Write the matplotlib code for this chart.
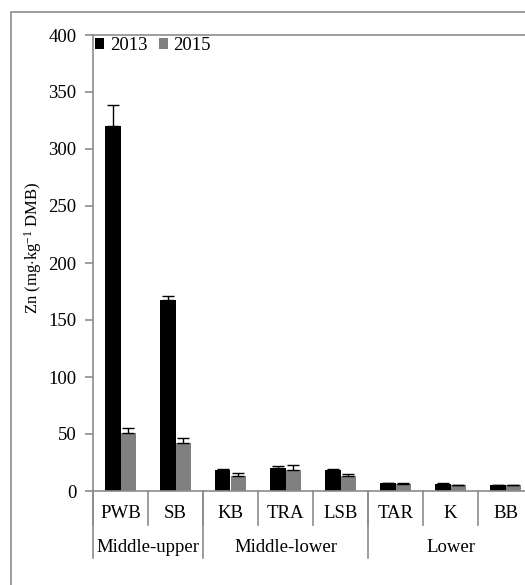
import matplotlib
matplotlib.use("Agg")
import matplotlib.pyplot as plt
from matplotlib.patches import Rectangle
import numpy as np

plt.rcParams['font.family'] = ['Liberation Serif', 'DejaVu Serif']
plt.rcParams['mathtext.fontset'] = 'custom'
plt.rcParams['mathtext.rm'] = 'Liberation Serif'
plt.rcParams['mathtext.it'] = 'Liberation Serif:italic'

sites = ["PWB", "SB", "KB", "TRA", "LSB", "TAR", "K", "BB"]
groups = ["Middle-upper", "Middle-lower", "Lower"]
group_sizes = [2, 3, 3]
series_names = ["2013", "2015"]
zn_2013 = [320, 167.5, 18.4, 20.5, 18.4, 6.8, 6.3, 5.0]
err_2013 = [19, 3.5, 0.6, 1.7, 0.6, 0.5, 0.4, 0.4]
zn_2015 = [51, 42.5, 13.5, 18.5, 13.0, 6.3, 5.0, 5.1]
err_2015 = [4, 4.4, 2.0, 4.0, 2.0, 0.5, 0.4, 0.4]
yticks = [0, 50, 100, 150, 200, 250, 300, 350, 400]

W, H = 525, 585
FS = 13.5
fig = plt.figure(figsize=(W / 100, H / 100), dpi=100)
gray = '#8c8c8c'

# outer frame (cropped at right and bottom)
fig.patches.append(Rectangle((11 / W, -0.02), 1.1, 1 - 12 / H + 0.02,
                             transform=fig.transFigure, fill=False,
                             edgecolor=gray, lw=1.2))

ax = fig.add_axes([93 / W, 1 - 491 / H, (533 - 93) / W, (491 - 35) / H])
x = np.arange(len(sites))
bw = 0.28
ekw = dict(ecolor='black', elinewidth=1.0, capsize=4.3, capthick=1.0)
ax.bar(x - bw / 2, zn_2013, bw, color='black', label=series_names[0],
       yerr=[np.zeros(len(sites)), err_2013], error_kw=ekw)
ax.bar(x + bw / 2, zn_2015, bw, color='#808080', label=series_names[1],
       yerr=[np.zeros(len(sites)), err_2015], error_kw=ekw)

ax.set_xlim(-0.5, len(sites) - 0.5)
ax.set_ylim(0, 400)
ax.set_yticks(yticks)
ax.set_yticklabels([str(v) for v in yticks], fontsize=FS)
ax.tick_params(axis='y', direction='out', length=6, width=1.2, color=gray, pad=6)
ax.set_xticks([])
for s in ['top', 'left', 'bottom']:
    ax.spines[s].set_color(gray)
    ax.spines[s].set_linewidth(1.2)
ax.spines['right'].set_visible(False)

ax.set_ylabel("Zn (mg$\\cdot$kg$^{-1}$ DMB)", fontsize=12)
ax.yaxis.set_label_coords((44 - 93) / 440, (491 - 248) / 456)

# category separators and labels
tr = ax.get_xaxis_transform()
for b in np.arange(-0.5, len(sites), 1.0):
    ax.plot([b, b], [0, -34 / 456], transform=tr, color=gray, lw=1.2, clip_on=False)
for i, s in enumerate(sites):
    ax.text(i, -22 / 456, s, transform=tr, ha='center', va='center', fontsize=FS)
start = -0.5
for g, n in zip(groups, group_sizes):
    ax.plot([start, start], [0, -67 / 456], transform=tr, color=gray, lw=1.2, clip_on=False)
    ax.text(start + n / 2, -56 / 456, g, transform=tr, ha='center', va='center', fontsize=FS)
    start += n
ax.plot([start, start], [0, -67 / 456], transform=tr, color=gray, lw=1.2, clip_on=False)

leg = ax.legend(loc='upper left', bbox_to_anchor=(0.0, 1.0), ncol=2, frameon=False,
                fontsize=FS, handlelength=0.5, handleheight=0.5, handletextpad=0.3,
                columnspacing=0.6, borderaxespad=0.05, borderpad=0.05)

fig.savefig("out.png", dpi=100)
